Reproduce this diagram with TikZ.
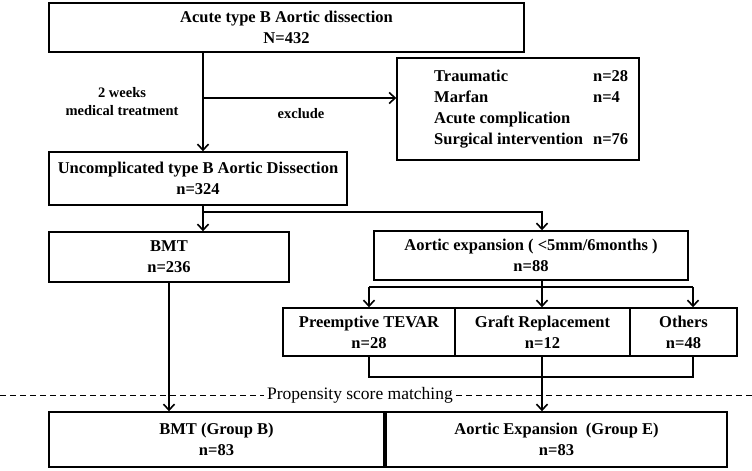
\documentclass[tikz,border=0pt]{standalone}
\usepackage{fontspec}
\setmainfont{Liberation Serif}
\usetikzlibrary{positioning,arrows.meta,calc}
\tikzset{
  stage/.style={draw, line width=1.4pt, align=center, inner sep=2pt,
                font=\fontsize{16.5}{21}\selectfont\bfseries},
  arr/.style={-{Straight Barb[length=6pt,width=11pt]}, line width=1.6pt},
  link/.style={line width=1.6pt},
  note/.style={align=center, font=\fontsize{14.5}{18}\selectfont\bfseries},
  matchline/.style={dash pattern=on 6pt off 4pt, line width=1pt}
}

\begin{document}
\begin{tikzpicture}[x=1pt, y=-1pt]
  \useasboundingbox (0,0) rectangle (752,471);

  % boxes
  \node[stage, minimum width=475pt, minimum height=49pt] (acute) at (286.5,27.5)
    {Acute type B Aortic dissection\\N=432};
  \node[stage, minimum width=242pt, minimum height=102pt] (excl) at (518,109) {};
  \node[anchor=west, inner sep=0pt, font=\fontsize{16.5}{21}\selectfont\bfseries] (exlist) at (434,109)
    {\begin{tabular}{@{}l@{\hspace{10pt}}l@{}}
       Traumatic & n=28\\
       Marfan & n=4\\
       Acute complication & \\
       Surgical intervention & n=76
     \end{tabular}};
  \node[stage, minimum width=298pt, minimum height=53pt] (uncomp) at (198,178.5)
    {Uncomplicated type B Aortic Dissection\\n=324};
  \node[stage, minimum width=240pt, minimum height=50pt] (bmt) at (169,257)
    {BMT\\n=236};
  \node[stage, minimum width=314pt, minimum height=49pt] (expan) at (531,255.5)
    {Aortic expansion ( <5mm/6months )\\n=88};
  \node[stage, minimum width=172pt, minimum height=48pt] (tevar) at (369,332)
    {Preemptive TEVAR\\n=28};
  \node[stage, minimum width=175pt, minimum height=48pt] (graft) at (542.5,332)
    {Graft Replacement\\n=12};
  \node[stage, minimum width=107pt, minimum height=48pt] (others) at (683.5,332)
    {Others\\n=48};
  \node[stage, minimum width=335pt, minimum height=55pt] (groupb) at (216.5,439.5)
    {BMT (Group B)\\n=83};
  \node[stage, minimum width=341pt, minimum height=55pt] (groupe) at (556.5,439.5)
    {Aortic Expansion~~(Group E)\\n=83};

  % labels
  \node[note] (weeks) at (122,102) {2 weeks\\medical treatment};
  \node[note] (exclude) at (301,114) {exclude};
  \node[font=\fontsize{17.5}{20}\selectfont] (psm) at (360,395) {Propensity score matching};

  % connectors
  \coordinate (split) at (203,98);
  \draw[arr] (split |- acute.south) -- (split |- uncomp.north);
  \draw[arr] (split) -- (excl.west |- split);

  \coordinate (fork) at (203,212);
  \draw[arr] (fork |- uncomp.south) -- (fork |- bmt.north);
  \draw[arr] (fork) -| ([xshift=11pt]expan.north);

  \coordinate (fork2) at (542,287);
  \draw[link] (fork2 |- expan.south) -- (fork2);
  \draw[link] (tevar.north |- fork2) -- ([xshift=9.5pt]others.north |- fork2);
  \draw[arr] (tevar.north |- fork2) -- (tevar.north);
  \draw[arr] (fork2) -- (fork2 |- graft.north);
  \draw[arr] ([xshift=9.5pt]others.north |- fork2) -- ([xshift=9.5pt]others.north);

  \draw[link] (tevar.south) -- ++(0,20) -| ([xshift=9.5pt]others.south);
  \draw[arr] (fork2 |- graft.south) -- (fork2 |- groupe.north);
  \draw[arr] (bmt.south) -- (bmt.south |- groupb.north);

  % matching line
  \coordinate (ml) at (0,395);
  \coordinate (mr) at (752,395);
  \draw[matchline] (ml) -- (psm.west);
  \draw[matchline] (psm.east) -- (mr);
\end{tikzpicture}
\end{document}
